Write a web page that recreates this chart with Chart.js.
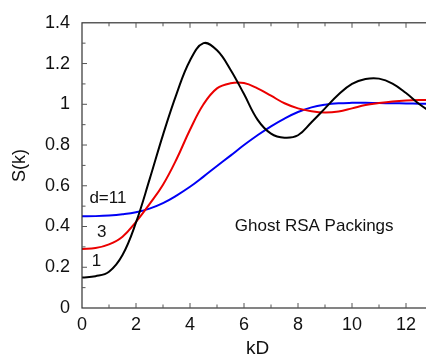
<!DOCTYPE html>
<html>
<head>
<meta charset="utf-8">
<script src="https://cdn.jsdelivr.net/npm/chart.js@4/dist/chart.umd.min.js"></script>
<style>
    html, body { margin: 0; padding: 0; background: #fff; overflow: hidden; }
    #wrap { position: relative; width: 436px; height: 358px; }
</style>
</head>
<body>
<div id="wrap"><canvas id="myChart"></canvas></div>
<script>
// structure factor S(k) vs kD, one curve per dimension
let kD = [0, 0.5, 1, 1.5, 2, 2.5, 3, 3.5, 4, 4.5, 5, 5.5, 6, 6.5, 7, 7.5, 8, 8.5, 9, 9.5, 10, 10.5, 11, 11.5, 12, 12.5, 13];

let sD1 = [0.15, 0.156, 0.178, 0.26, 0.42, 0.63, 0.85, 1.05, 1.215, 1.3, 1.265, 1.17, 1.05, 0.925, 0.856, 0.836, 0.848, 0.912, 0.98, 1.048, 1.1, 1.124, 1.126, 1.102, 1.055, 1.0, 0.955];
let sD3 = [0.29, 0.294, 0.312, 0.35, 0.423, 0.51, 0.605, 0.73, 0.875, 1.0, 1.078, 1.103, 1.104, 1.078, 1.042, 1.005, 0.98, 0.966, 0.96, 0.965, 0.98, 0.996, 1.006, 1.014, 1.019, 1.021, 1.021];
let sD11 = [0.45, 0.451, 0.454, 0.46, 0.47, 0.488, 0.515, 0.552, 0.595, 0.645, 0.697, 0.748, 0.8, 0.848, 0.892, 0.93, 0.962, 0.985, 0.998, 1.005, 1.007, 1.007, 1.006, 1.005, 1.004, 1.003, 1.002];

let xTickLabels = [0, 2, 4, 6, 8, 10, 12];
let yTickLabels = [0, 0.2, 0.4, 0.6, 0.8, 1, 1.2, 1.4];

const FONT = "'Liberation Sans', Arial, Helvetica, sans-serif";

function toPoints(ys) {
    return ys.map((y, i) => ({ x: kD[i], y: y }));
}

function series(ys, color) {
    return {
        data: toPoints(ys),
        borderColor: color,
        borderWidth: 2,
        pointRadius: 0,
        fill: false,
        showLine: true,
        tension: 0.4
    };
}

// box round the plot with short inward ticks, like the old plotting packages
const frame = {
    id: "frame",
    afterDraw(chart) {
        const ctx = chart.ctx;
        const a = chart.chartArea;
        const xs = chart.scales.x, ys = chart.scales.y;
        ctx.save();
        ctx.strokeStyle = "#333";
        ctx.lineWidth = 1.2;
        ctx.strokeRect(a.left, a.top, a.right - a.left, a.bottom - a.top);
        ctx.lineWidth = 1;
        ctx.strokeStyle = "#555";
        ctx.beginPath();
        for (let v = 1; v < 13; v++) {
            const px = xs.getPixelForValue(v);
            const len = v % 2 === 0 ? 5 : 3.5;
            ctx.moveTo(px, a.bottom); ctx.lineTo(px, a.bottom - len);
            ctx.moveTo(px, a.top); ctx.lineTo(px, a.top + len);
        }
        for (let i = 1; i < 14; i++) {
            const py = ys.getPixelForValue(i / 10);
            const len = i % 2 === 0 ? 5 : 3.5;
            ctx.moveTo(a.left, py); ctx.lineTo(a.left + len, py);
            ctx.moveTo(a.right, py); ctx.lineTo(a.right - len, py);
        }
        ctx.stroke();
        ctx.restore();
    }
};

// curve labels and the caption, placed in data units
const notes = {
    id: "notes",
    afterDatasetsDraw(chart) {
        const ctx = chart.ctx;
        const xs = chart.scales.x, ys = chart.scales.y;
        const items = [
            { text: "d=11", x: 0.96, y: 0.54 },
            { text: "3", x: 0.73, y: 0.37 },
            { text: "1", x: 0.54, y: 0.23 },
            { text: "Ghost RSA Packings", x: 8.6, y: 0.40 }
        ];
        ctx.save();
        ctx.fillStyle = "#111";
        ctx.font = "17px " + FONT;
        ctx.textAlign = "center";
        ctx.textBaseline = "middle";
        items.forEach(it => {
            ctx.fillText(it.text, xs.getPixelForValue(it.x), ys.getPixelForValue(it.y));
        });
        ctx.restore();
    }
};

let config = {
    type: "scatter",
    data: {
        datasets: [
            series(sD1, "#000000"),
            series(sD3, "rgb(235, 0, 0)"),
            series(sD11, "rgb(0, 0, 245)")
        ]
    },
    options: {
        responsive: true,
        maintainAspectRatio: false,
        animation: false,
        layout: { padding: { top: 17, right: 3, left: 0, bottom: 0 } },
        plugins: {
            legend: { display: false },
            tooltip: { enabled: false }
        },
        scales: {
            x: {
                type: "linear",
                min: 0,
                max: 13,
                afterFit(scale) { scale.height = 50; },
                afterBuildTicks(scale) {
                    scale.ticks = xTickLabels.map(v => ({ value: v }));
                },
                grid: { display: false, drawTicks: false },
                border: { display: false },
                ticks: {
                    color: "#111",
                    font: { family: FONT, size: 18 },
                    padding: 6,
                    maxRotation: 0,
                    autoSkip: false
                },
                title: {
                    display: true,
                    text: "kD",
                    color: "#111",
                    font: { family: FONT, size: 19 },
                    padding: { top: 0, bottom: -2 }
                }
            },
            y: {
                type: "linear",
                min: 0,
                max: 1.4,
                afterFit(scale) { scale.width = 82; },
                afterBuildTicks(scale) {
                    scale.ticks = yTickLabels.map(v => ({ value: v }));
                },
                grid: { display: false, drawTicks: false },
                border: { display: false },
                ticks: {
                    color: "#111",
                    font: { family: FONT, size: 18 },
                    padding: 12,
                    autoSkip: false,
                    callback: v => String(Math.round(v * 10) / 10)
                },
                title: {
                    display: true,
                    text: "S(k)",
                    color: "#111",
                    font: { family: FONT, size: 18 },
                    padding: { top: 9, bottom: 0 }
                }
            }
        }
    },
    plugins: [frame, notes]
};

let ctx = document.getElementById("myChart").getContext("2d");
let myChart = new Chart(ctx, config);
</script>
</body>
</html>
